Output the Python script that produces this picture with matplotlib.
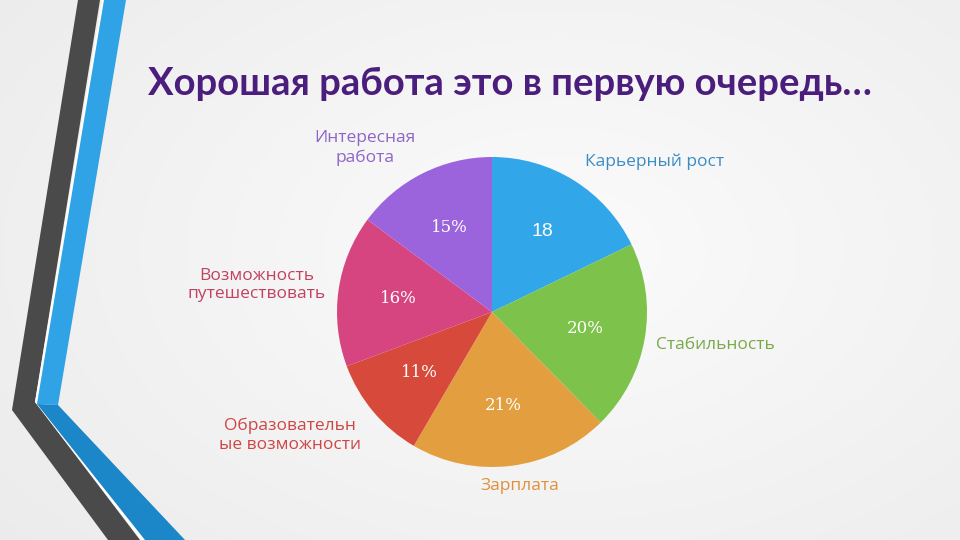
import numpy as np
import matplotlib
matplotlib.use("Agg")
import matplotlib.pyplot as plt
from matplotlib.patches import Polygon

categories = ["Карьерный рост", "Стабильность", "Зарплата",
              "Образовательн\nые возможности", "Возможность\nпутешествовать",
              "Интересная\nработа"]
values = [18, 20, 21, 11, 16, 15]
value_labels = ["18", "20%", "21%", "11%", "16%", "15%"]
title = "Хорошая работа это в первую очередь…"

slice_colors = ["#31a6e9", "#7dc24b", "#e39e40", "#d7493a", "#d6457f", "#9c64dc"]
label_colors = ["#3c8cc4", "#78a84a", "#e0903a", "#cf4545", "#c34160", "#9064c8"]
# label centre positions in pixels (x, y from top)
label_pos = [(655, 162), (715, 345), (520, 486), (290, 435), (257, 285), (365, 148)]
value_fonts = ["Liberation Sans", "DejaVu Serif", "DejaVu Serif", "DejaVu Serif",
               "DejaVu Serif", "DejaVu Serif"]
value_sizes = [14, 12, 12, 12, 12, 12]

W, H = 960, 540
fig = plt.figure(figsize=(9.6, 5.4), dpi=100)
ax = fig.add_axes([0, 0, 1, 1])
ax.set_xlim(0, W)
ax.set_ylim(0, H)
ax.axis("off")

# background gradient
yy, xx = np.mgrid[0:H, 0:W]
d = np.sqrt(((xx - 560) / 700.0) ** 2 + ((yy - 250) / 450.0) ** 2)
bg = np.clip(0.985 - 0.06 * d, 0, 1)
ax.imshow(np.dstack([bg, bg, bg]), extent=[0, W, 0, H], origin="upper", zorder=0)

def P(pts):
    return [(x, H - y) for x, y in pts]

# left decoration
ax.add_patch(Polygon(P([(78, 0), (100, 0), (35, 402), (140, 540), (108, 540), (12, 410)]),
                     closed=True, fc="#4a4a4a", ec="none", zorder=1))
ax.add_patch(Polygon(P([(102, 0), (104, 0), (37, 404), (145, 540), (141, 540), (35, 402)]),
                     closed=True, fc="#ffffff", ec="none", zorder=1))
ax.add_patch(Polygon(P([(104, 0), (126, 0), (58, 405), (37, 404)]),
                     closed=True, fc="#2fa3e6", ec="none", zorder=1))
ax.add_patch(Polygon(P([(37, 404), (58, 405), (185, 540), (145, 540)]),
                     closed=True, fc="#1b86c8", ec="none", zorder=1))

# pie
cx, cy, r = 492, H - 312, 155
wedges, _ = ax.pie(values, colors=slice_colors, startangle=90, counterclock=False,
                   center=(cx, cy), radius=r, frame=True,
                   wedgeprops=dict(linewidth=0, zorder=2))
ax.set_xlim(0, W)
ax.set_ylim(0, H)
ax.set_aspect("auto")
ax.axis("off")

for w, txt, fnt, fs in zip(wedges, value_labels, value_fonts, value_sizes):
    mid = np.deg2rad((w.theta1 + w.theta2) / 2)
    rr = 0.61 * r
    ax.text(cx + rr * np.cos(mid), cy + rr * np.sin(mid), txt, color="white",
            fontsize=fs, family=fnt, ha="center", va="center", zorder=3)

for cat, col, (px, py) in zip(categories, label_colors, label_pos):
    ax.text(px, H - py, cat, color=col, fontsize=12.5, family="Open Sans",
            ha="center", va="center", linespacing=1.25, zorder=3)

ax.text(148, H - 84, title, color="#4b1d7c", fontsize=27.5, family="Lato",
        fontweight="bold", ha="left", va="center", zorder=3)

fig.savefig("out.png", dpi=100)
